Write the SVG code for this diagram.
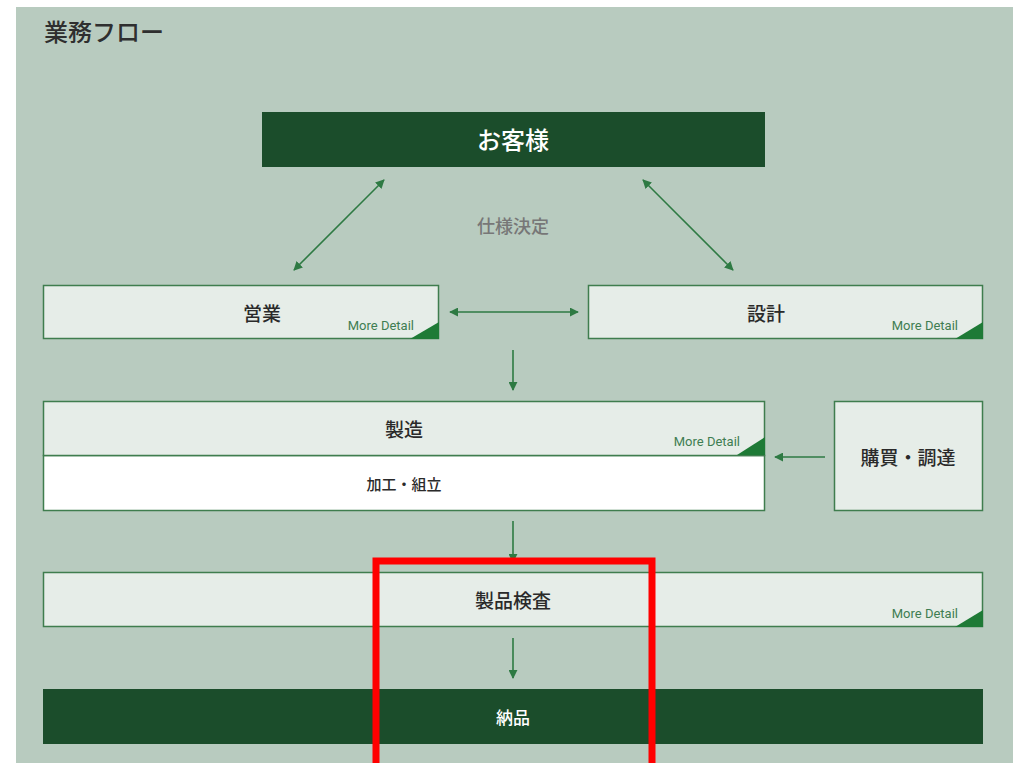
<svg xmlns="http://www.w3.org/2000/svg" width="1015" height="763" viewBox="0 0 1015 763">
<defs>
<marker id="ah" viewBox="0 0 10 10" refX="9" refY="5" markerWidth="9" markerHeight="9" markerUnits="userSpaceOnUse" orient="auto-start-reverse">
<path d="M0,0 L10,5 L0,10 z" fill="#2e7a43"/>
</marker>
<style>
.jp{font-family:"Noto Sans CJK JP","Noto Sans",sans-serif}
.box{fill:#e6ede8;stroke:#3f7d4e;stroke-width:1.5}
.dark{fill:#1b4d2b}
.lbl{font-size:19px;fill:#2a2a2a;text-anchor:middle;font-weight:500}
.wl{fill:#ffffff;text-anchor:middle;font-weight:500}
.md{font-family:Roboto,"Liberation Sans",sans-serif;font-size:13px;fill:#3f7d52;text-anchor:end}
.tri{fill:#1e7a36}
.con{stroke:#2e7a43;stroke-width:1.6;fill:none}
</style>
</defs>
<rect x="0" y="0" width="1015" height="763" fill="#ffffff"/>
<rect x="16" y="7" width="997" height="760" fill="#b8cbbf"/>
<text x="44" y="41" class="jp" font-size="24" font-weight="500" fill="#2f2f2f">業務フロー</text>

<g id="customer">
<rect x="262" y="112" width="503" height="55" class="dark"/>
<text x="513" y="149" class="jp wl" font-size="24">お客様</text>
</g>
<g id="spec">
<text x="513" y="233" class="jp" font-size="18" font-weight="500" fill="#777777" text-anchor="middle">仕様決定</text>
</g>
<g id="sales">
<rect x="43.5" y="285.5" width="395" height="53" class="box"/>
<text x="262" y="321" class="jp lbl">営業</text>
<text x="414" y="330" class="md">More Detail</text>
<polygon points="410,339 439,322 439,339" class="tri"/>
</g>
<g id="design">
<rect x="588.5" y="285.5" width="394" height="53" class="box"/>
<text x="766" y="321" class="jp lbl">設計</text>
<text x="958" y="330" class="md">More Detail</text>
<polygon points="955,339 983,322 983,339" class="tri"/>
</g>
<g id="manufacturing">
<rect x="43.5" y="455.5" width="721" height="55" fill="#ffffff" stroke="#3f7d4e" stroke-width="1.5"/>
<rect x="43.5" y="401.5" width="721" height="54" class="box"/>
<text x="404" y="437" class="jp lbl">製造</text>
<text x="740" y="446" class="md">More Detail</text>
<polygon points="737,455 765,437 765,455" class="tri"/>
<text x="404" y="490" class="jp" font-size="15" font-weight="500" fill="#2a2a2a" text-anchor="middle">加工・組立</text>
</g>
<g id="procurement">
<rect x="834.5" y="401.5" width="148" height="109" class="box"/>
<text x="908" y="465" class="jp lbl">購買・調達</text>
</g>
<g id="inspection">
<rect x="43.5" y="572.5" width="939" height="54" class="box"/>
<text x="513" y="608" class="jp lbl">製品検査</text>
<text x="958" y="618" class="md">More Detail</text>
<polygon points="955,627 983,610 983,627" class="tri"/>
</g>
<g id="delivery">
<rect x="43" y="689" width="940" height="55" class="dark"/>
<text x="513" y="724" class="jp wl" font-size="17">納品</text>
</g>

<g id="connectors">
<line x1="384" y1="180" x2="294" y2="270" class="con" marker-start="url(#ah)" marker-end="url(#ah)"/>
<line x1="643" y1="180" x2="733" y2="270" class="con" marker-start="url(#ah)" marker-end="url(#ah)"/>
<line x1="450" y1="312" x2="578" y2="312" class="con" marker-start="url(#ah)" marker-end="url(#ah)"/>
<line x1="513" y1="350" x2="513" y2="390" class="con" marker-end="url(#ah)"/>
<line x1="825" y1="457" x2="775" y2="457" class="con" marker-end="url(#ah)"/>
<line x1="513" y1="521" x2="513" y2="562" class="con" marker-end="url(#ah)"/>
<line x1="513" y1="638" x2="513" y2="678" class="con" marker-end="url(#ah)"/>
</g>

<rect x="376" y="561" width="276" height="220" fill="none" stroke="#ff0000" stroke-width="7"/>
</svg>
